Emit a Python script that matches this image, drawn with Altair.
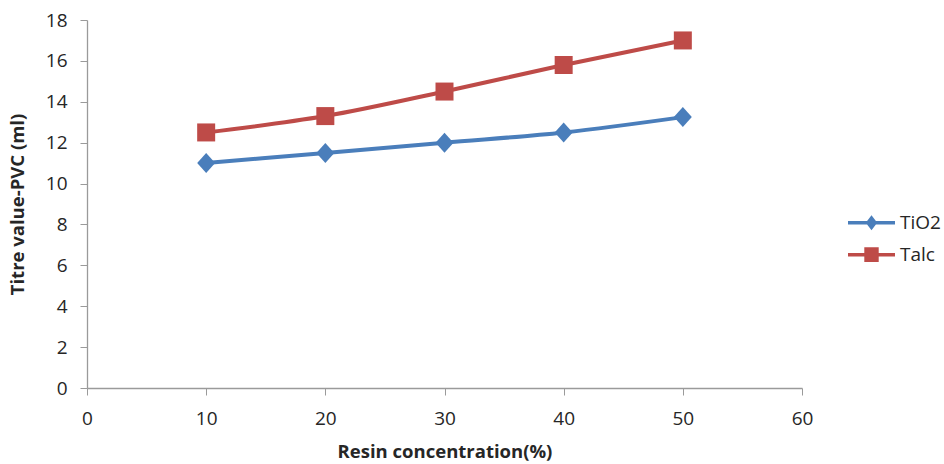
import altair as alt
import pandas as pd

# ---- data ----
x_vals = [10, 20, 30, 40, 50]
tio2_vals = [11.0, 11.5, 12.0, 12.5, 13.25]
talc_vals = [12.5, 13.3, 14.5, 15.8, 17.0]
series_names = ["TiO2", "Talc"]
series_colors = ["#4A7EBB", "#BE4B48"]
x_ticks = [0, 10, 20, 30, 40, 50, 60]
y_ticks = [0, 2, 4, 6, 8, 10, 12, 14, 16, 18]

rows = []
for name, vals in zip(series_names, [tio2_vals, talc_vals]):
    for x, v in zip(x_vals, vals):
        rows.append({"series": name, "conc": x, "value": v})
df = pd.DataFrame(rows)

FONT = "Open Sans"
TEXT = "#262626"
AXIS_GREY = "#9a9a9a"
LABEL_SIZE = 19
TITLE_SIZE = 18.5

# marker shapes (plot) and legend glyphs (line + marker)
diamond_path = "M0,-1L0.9,0L0,1L-0.9,0Z"
square_path = "M-0.9,-0.9L0.9,-0.9L0.9,0.9L-0.9,0.9Z"
leg_diamond = ("M-1.175,-0.09L-0.22,-0.09L0,-0.375L0.22,-0.09L1.175,-0.09"
               "L1.175,0.09L0.22,0.09L0,0.375L-0.22,0.09L-1.175,0.09Z")
leg_square = ("M-1.175,-0.09L-0.36,-0.09L-0.36,-0.37L0.36,-0.37L0.36,-0.09"
              "L1.175,-0.09L1.175,0.09L0.36,0.09L0.36,0.37L-0.36,0.37L-0.36,0.09"
              "L-1.175,0.09Z")
marker_paths = [diamond_path, square_path]

x_enc = alt.X(
    "conc:Q",
    scale=alt.Scale(domain=[0, 60], nice=False, zero=False),
    axis=alt.Axis(
        values=x_ticks, title="Resin concentration(%)", grid=False,
        labelFont=FONT, labelFontSize=LABEL_SIZE, labelColor=TEXT, labelPadding=14,
        labelFlush=False, labelOverlap=False,
        titleFont=FONT, titleFontSize=TITLE_SIZE, titleFontWeight="bold",
        titleColor=TEXT, titlePadding=14,
        tickSize=7, tickColor=AXIS_GREY, domainColor=AXIS_GREY,
        tickWidth=1, domainWidth=1.3,
    ),
)
y_enc = alt.Y(
    "value:Q",
    scale=alt.Scale(domain=[0, 18], nice=False),
    axis=alt.Axis(
        values=y_ticks, title="Titre value-PVC (ml)", grid=False,
        labelFont=FONT, labelFontSize=LABEL_SIZE, labelColor=TEXT, labelPadding=13,
        labelOverlap=False,
        titleFont=FONT, titleFontSize=TITLE_SIZE, titleFontWeight="bold",
        titleColor=TEXT, titlePadding=18,
        tickSize=7, tickColor=AXIS_GREY, domainColor=AXIS_GREY,
        tickWidth=1, domainWidth=1.3,
    ),
)

base = alt.Chart(df)
layers = []
for name, col in zip(series_names, series_colors):
    layers.append(
        base.transform_filter(alt.datum.series == name)
        .mark_line(color=col, strokeWidth=4, interpolate="monotone")
        .encode(x=x_enc, y=y_enc)
    )
for name, col, shp in zip(series_names, series_colors, marker_paths):
    layers.append(
        base.transform_filter(alt.datum.series == name)
        .mark_point(filled=True, color=col, shape=shp, size=400,
                    opacity=1, strokeWidth=0)
        .encode(x=x_enc, y=y_enc)
    )

legend = alt.Legend(
    title=None, orient="none", legendX=764.5, legendY=182.7,
    symbolSize=1600, symbolStrokeWidth=0, symbolOpacity=1,
    labelFont=FONT, labelFontSize=LABEL_SIZE, labelColor=TEXT,
    labelOffset=8.5, rowPadding=2, padding=0,
)
legend_layer = base.mark_point(filled=True, opacity=0, size=1600).encode(
    x=x_enc, y=y_enc,
    color=alt.Color("series:N", scale=alt.Scale(domain=series_names, range=series_colors), legend=legend),
    shape=alt.Shape("series:N", scale=alt.Scale(domain=series_names, range=[leg_diamond, leg_square]), legend=legend),
)
layers.append(legend_layer)

chart = (
    alt.layer(*layers)
    .properties(
        width=715, height=368,
        autosize=alt.AutoSizeParams(type="none"),
        padding={"left": 87, "top": 20, "right": 142, "bottom": 76},
        background="white",
    )
    .configure_view(stroke=None)
)

chart.save("out.html", embed_options={"renderer": "svg", "actions": False})
